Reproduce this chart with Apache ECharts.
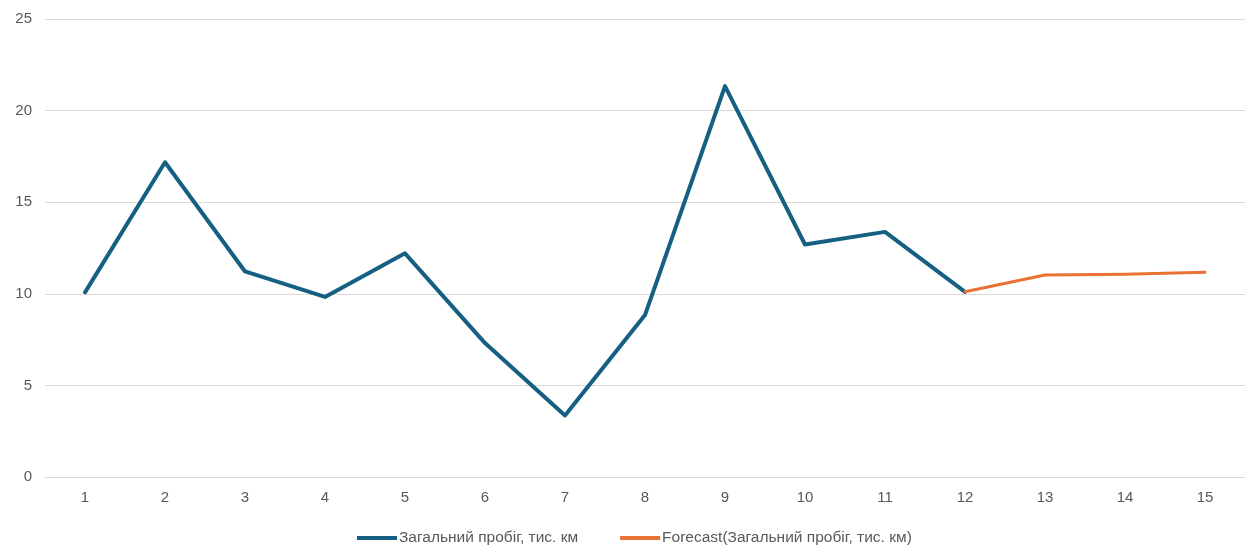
<!DOCTYPE html>
<html>
<head>
<meta charset="utf-8">
<script src="https://cdn.jsdelivr.net/npm/echarts@6/dist/echarts.min.js"></script>
<style>
html,body{margin:0;padding:0;background:#fff;}
#c{width:1250px;height:546px;}
</style>
</head>
<body>
<div id="c"></div>
<script>
const categories = ['1','2','3','4','5','6','7','8','9','10','11','12','13','14','15'];
const actualValues = [10.08, 17.18, 11.22, 9.83, 12.21, 7.31, 3.36, 8.84, 21.34, 12.69, 13.38, 10.11, null, null, null];
const forecastValues = [null, null, null, null, null, null, null, null, null, null, null, 10.11, 11.03, 11.07, 11.18];
const yTicks = [0, 5, 10, 15, 20, 25];
const seriesNames = ['Загальний пробіг, тис. км', 'Forecast(Загальний пробіг, тис. км)'];

const chart = echarts.init(document.getElementById('c'), null, {renderer: 'canvas'});
const font = 'Liberation Sans, Arial, sans-serif';
chart.setOption({
  animation: false,
  backgroundColor: '#ffffff',
  grid: {left: 45, right: 5, top: 19, bottom: 69, containLabel: false},
  legend: {
    bottom: -5,
    left: 352,
    itemWidth: 40,
    itemHeight: 4,
    itemGap: 42,
    icon: 'rect',
    textStyle: {fontFamily: font, fontSize: 15.5, color: '#595959', padding: [0,0,0,-3]},
    data: seriesNames
  },
  xAxis: {
    type: 'category',
    data: categories,
    boundaryGap: true,
    axisLine: {show: true, lineStyle: {color: '#d9d9d9', width: 1}},
    axisTick: {show: false},
    axisLabel: {fontFamily: font, fontSize: 15, color: '#595959', margin: 13}
  },
  yAxis: {
    type: 'value',
    min: yTicks[0],
    max: yTicks[yTicks.length - 1],
    interval: yTicks[1] - yTicks[0],
    axisLine: {show: false},
    axisTick: {show: false},
    splitLine: {lineStyle: {color: '#d9d9d9', width: 1}},
    axisLabel: {fontFamily: font, fontSize: 15, color: '#595959', margin: 13}
  },
  series: [
    {
      name: seriesNames[0],
      type: 'line',
      data: actualValues,
      symbol: 'none',
      connectNulls: false,
      itemStyle: {color: '#156082'},
      lineStyle: {color: '#156082', width: 4, cap: 'round', join: 'round'},
      z: 3
    },
    {
      name: seriesNames[1],
      type: 'line',
      data: forecastValues,
      symbol: 'none',
      connectNulls: false,
      itemStyle: {color: '#E97132'},
      lineStyle: {color: '#E97132', width: 3, cap: 'round', join: 'round'},
      z: 4
    }
  ]
});
</script>
</body>
</html>
